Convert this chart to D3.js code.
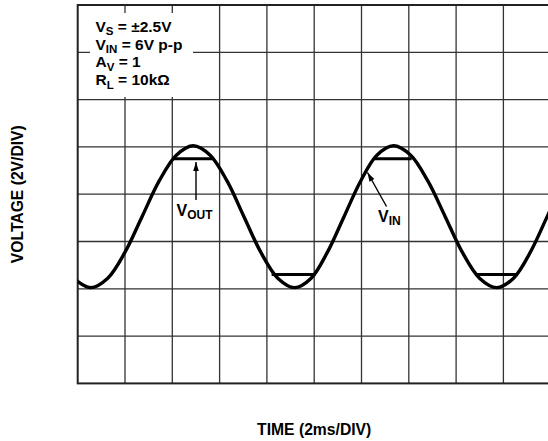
<!DOCTYPE html>
<html>
<head>
<meta charset="utf-8">
<script src="https://cdn.jsdelivr.net/npm/d3@7/dist/d3.min.js"></script>
<style>
  html, body { margin: 0; padding: 0; background: #fff; }
  svg { display: block; }
  text { font-family: "Liberation Sans", Arial, Helvetica, sans-serif; font-weight: bold; fill: #000; }
</style>
</head>
<body>
<svg id="chart" width="548" height="441"></svg>
<script>
// Scope screen: 10 time divisions (2 ms/div) by 8 voltage divisions (2 V/div)
const timeDivs = d3.range(0, 21, 2);        // ms
const voltDivs = d3.range(-8, 9, 2);        // V

// Input sine (time in ms, volts on screen)
const vinTime  = [-0.17, 0.55, 1.27, 2.00, 2.72, 3.44, 4.17,
                  4.89, 5.60, 6.32, 7.03, 7.74, 8.46,
                  9.17, 9.87, 10.56, 11.26, 11.96, 12.65,
                  13.35, 14.08, 14.81, 15.54, 16.26, 16.99,
                  17.72, 18.43, 19.14, 19.85, 20.55];
const vinVolts = [-3.55, -3.95, -3.55, -2.45, -0.95, 0.55, 1.65,
                  2.05, 1.65, 0.55, -0.95, -2.45, -3.55,
                  -3.95, -3.55, -2.45, -0.95, 0.55, 1.65,
                  2.05, 1.65, 0.55, -0.95, -2.45, -3.55,
                  -3.95, -3.55, -2.45, -0.95, 0.55];

// Output clipping flats (start/end in ms, level in V)
const voutStart = [4.05, 8.20, 12.52, 16.87];
const voutEnd   = [5.73, 10.05, 14.12, 18.60];
const voutLevel = [1.50, -3.40, 1.50, -3.40];

// Test-condition legend
const condMain = ["V", "V", "A", "R"];
const condSub  = ["S", "IN", "V", "L"];
const condRest = [" = ±2.5V", " = 6V p-p", " = 1", " = 10kΩ"];

const svg = d3.select("#chart");
const plotLeft = 77.7, plotTop = 5, div = 47.3;
const x = d3.scaleLinear().domain([0, 20]).range([plotLeft, plotLeft + 10 * div]);
const y = d3.scaleLinear().domain([-8, 8]).range([plotTop + 8 * div, plotTop]);

svg.append("defs").append("clipPath").attr("id", "plot")
  .append("rect")
  .attr("x", x(0)).attr("y", y(8))
  .attr("width", x(20) - x(0)).attr("height", y(-8) - y(8));

// Grid
const grid = svg.append("g").attr("stroke", "#333").attr("stroke-width", 1.3);
grid.selectAll("line.v").data(timeDivs.slice(1, -1)).join("line")
  .attr("class", "v")
  .attr("x1", d => x(d)).attr("x2", d => x(d))
  .attr("y1", y(8)).attr("y2", y(-8));
grid.selectAll("line.h").data(voltDivs.slice(1, -1)).join("line")
  .attr("class", "h")
  .attr("x1", x(0)).attr("x2", x(20))
  .attr("y1", d => y(d)).attr("y2", d => y(d));

// Frame
svg.append("rect")
  .attr("x", x(0)).attr("y", y(8))
  .attr("width", x(20) - x(0)).attr("height", y(-8) - y(8))
  .attr("fill", "none").attr("stroke", "#222").attr("stroke-width", 2);

// Traces
const traces = svg.append("g").attr("clip-path", "url(#plot)");
const vin = vinTime.map((t, i) => [t, vinVolts[i]]);
traces.append("path")
  .datum(vin)
  .attr("fill", "none").attr("stroke", "#000").attr("stroke-width", 3.4)
  .attr("stroke-linejoin", "round")
  .attr("d", d3.line().x(d => x(d[0])).y(d => y(d[1])).curve(d3.curveCatmullRom.alpha(0.5)));

traces.selectAll("line.vout").data(voutLevel).join("line")
  .attr("class", "vout")
  .attr("x1", (d, i) => x(voutStart[i])).attr("x2", (d, i) => x(voutEnd[i]))
  .attr("y1", d => y(d)).attr("y2", d => y(d))
  .attr("stroke", "#000").attr("stroke-width", 3);

// Legend box over the grid
svg.append("rect").attr("x", 90).attr("y", 13).attr("width", 103).attr("height", 84).attr("fill", "#fff");
const legend = svg.append("g");
condMain.forEach((m, i) => {
  const t = legend.append("text").attr("x", 95.5).attr("y", 31.7 + i * 17.8).attr("font-size", 15.5);
  t.append("tspan").text(m);
  t.append("tspan").attr("dy", 3.5).attr("font-size", 11.5).text(condSub[i]);
  t.append("tspan").attr("dy", -3.5).text(condRest[i]);
});

// Trace labels with arrows
const arrowHead = (x1, y1, x2, y2, len, half) => {
  const a = Math.atan2(y2 - y1, x2 - x1);
  const bx = x2 - len * Math.cos(a), by = y2 - len * Math.sin(a);
  const nx = -Math.sin(a) * half, ny = Math.cos(a) * half;
  return `M${x2},${y2}L${bx + nx},${by + ny}L${bx - nx},${by - ny}Z`;
};
const arrows = [
  { x1: 196, y1: 200, x2: 196, y2: 162 },
  { x1: 386.5, y1: 206.5, x2: 367.5, y2: 172.5 }
];
const ag = svg.append("g");
arrows.forEach(a => {
  ag.append("line").attr("x1", a.x1).attr("y1", a.y1).attr("x2", a.x2).attr("y2", a.y2)
    .attr("stroke", "#000").attr("stroke-width", 1.4);
  ag.append("path").attr("d", arrowHead(a.x1, a.y1, a.x2, a.y2, 9, 2.8)).attr("fill", "#000");
});

const traceLabels = [
  { x: 176.5, y: 215.5, main: "V", sub: "OUT" },
  { x: 378, y: 221.5, main: "V", sub: "IN" }
];
traceLabels.forEach(l => {
  const t = svg.append("text").attr("x", l.x).attr("y", l.y).attr("font-size", 16);
  t.append("tspan").text(l.main);
  t.append("tspan").attr("dy", 3.5).attr("font-size", 12).text(l.sub);
});

// Axis titles
svg.append("text")
  .attr("transform", `translate(22.5,${y(0)}) rotate(-90)`)
  .attr("text-anchor", "middle").attr("font-size", 15.7)
  .text("VOLTAGE (2V/DIV)");
svg.append("text")
  .attr("x", (x(0) + x(20)) / 2).attr("y", 434.5)
  .attr("text-anchor", "middle").attr("font-size", 15.7)
  .text("TIME (2ms/DIV)");
</script>
</body>
</html>
